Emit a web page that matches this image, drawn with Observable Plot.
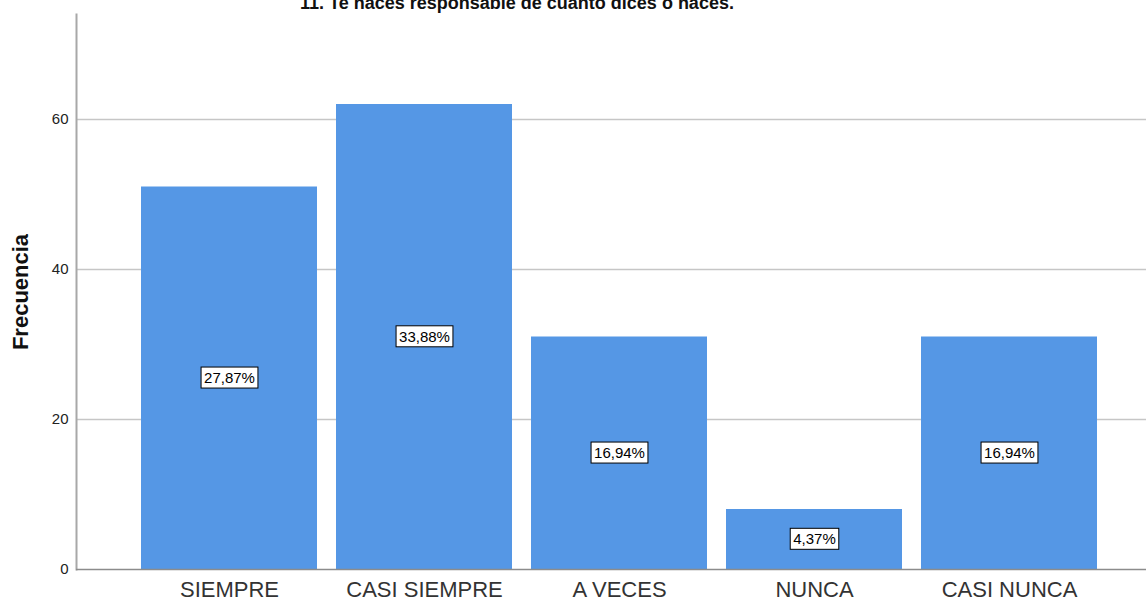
<!DOCTYPE html>
<html>
<head>
<meta charset="utf-8">
<script src="https://cdn.jsdelivr.net/npm/d3@7"></script>
<script src="https://cdn.jsdelivr.net/npm/@observablehq/plot@0.6"></script>
<style>
  html, body { margin: 0; padding: 0; background: #fff; overflow: hidden; }
  #wrap { position: relative; width: 1146px; height: 601px; }
  #title { position: absolute; left: 0; width: 1034px; top: -6px; text-align: center;
    font: bold 18px "Liberation Sans", Arial, sans-serif; color: #111; line-height: 18px; z-index: 2; }
  #chart { position: absolute; left: 0; top: 0; }
</style>
</head>
<body>
<div id="wrap">
  <div id="title">11. Te haces responsable de cuanto dices o haces.</div>
  <div id="chart"></div>
</div>
<script>
const categories = ["SIEMPRE", "CASI SIEMPRE", "A VECES", "NUNCA", "CASI NUNCA"];
const frequencies = [51, 62, 31, 8, 31];
const percentLabels = ["27,87%", "33,88%", "16,94%", "4,37%", "16,94%"];
const yTicks = [0, 20, 40, 60];
const yLabel = "Frecuencia";

const data = categories.map((c, i) => ({cat: c, n: frequencies[i], pct: percentLabels[i], mid: frequencies[i] / 2}));

const plot = Plot.plot({
  width: 1146,
  height: 601,
  marginLeft: 76,
  marginRight: 0,
  marginTop: 14,
  marginBottom: 32,
  style: {fontFamily: '"Liberation Sans", Arial, sans-serif', background: "#fff"},
  x: {type: "band", domain: categories, range: [130.2, 1107.8], paddingInner: 0.1, paddingOuter: 0.05, label: null},
  y: {domain: [0, 74], label: null},
  marks: [
    Plot.ruleY(yTicks.filter(d => d > 0), {stroke: "#c6c6c6", strokeWidth: 1.5}),
    Plot.barY(data, {x: "cat", y: "n", fill: "#5597e5"}),
    Plot.frame({anchor: "left", stroke: "#a8a8a8", strokeWidth: 2}),
    Plot.ruleY([0], {stroke: "#8c8c8c", strokeWidth: 1.5}),
    Plot.axisY({ticks: yTicks, tickSize: 0, tickPadding: 8, fontSize: 15, fill: "#222", label: null}),
    Plot.axisX({tickSize: 0, tickPadding: 12, fontSize: 22, fill: "#333", label: null}),
    Plot.text([yLabel], {frameAnchor: "left", textAnchor: "middle", rotate: -90, dx: -56, fontSize: 22, fontWeight: "bold", fill: "#111"}),
    Plot.text(data, {x: "cat", y: "mid", text: "pct", fontSize: 15, fill: "#000", className: "pct"})
  ]
});

document.getElementById("chart").appendChild(plot);

// white boxes behind the percentage labels
document.querySelectorAll("g.pct text").forEach(t => {
  const b = t.getBBox();
  const r = document.createElementNS("http://www.w3.org/2000/svg", "rect");
  r.setAttribute("x", b.x - 3);
  r.setAttribute("y", b.y - 2);
  r.setAttribute("width", b.width + 6);
  r.setAttribute("height", b.height + 4);
  r.setAttribute("fill", "#fff");
  r.setAttribute("stroke", "#000");
  r.setAttribute("stroke-width", "1");
  if (t.getAttribute("transform")) r.setAttribute("transform", t.getAttribute("transform"));
  t.parentNode.insertBefore(r, t);
});
</script>
</body>
</html>
